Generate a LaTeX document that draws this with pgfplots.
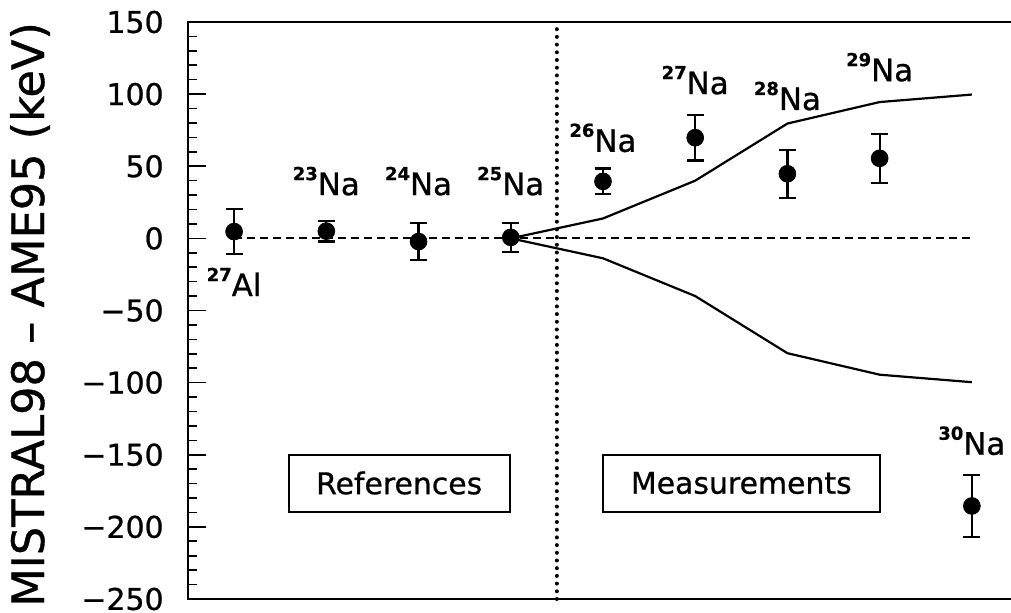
\documentclass[border=0pt]{standalone}
\usepackage{fontspec}
\setmainfont{DejaVu Sans}[FakeBold=0.8]
\usepackage{pgfplots}
\pgfplotsset{compat=1.18}
\usepackage{pgfplotstable}

\pgfplotstableread{
x y e
1 4.7 15.5
2 5.0 7.2
3 -2.2 12.9
4 0.7 10.0
5 39.5 9.0
6 69.8 15.8
7 44.8 16.6
8 55.5 16.9
9 -185.5 21.3
}\datatable

\pgfplotstableread{
x up lo
4 0 0
5 13.8 -13.8
6 40 -40
7 79.6 -79.6
8 94.5 -94.5
9 99.7 -99.7
}\curves

\newcommand\iso[2]{\raisebox{7.5bp}{\fontsize{9}{9}\selectfont\bfseries #1}#2}

\begin{document}
\begin{tikzpicture}
\begin{axis}[name=ax, scale only axis, width=415bp, height=288.5bp,
  xmin=0.5, xmax=9.5, ymin=-250, ymax=150,
  xtick=\empty,
  ytick={-250,-200,-150,-100,-50,0,50,100,150},
  yticklabels={−250,−200,−150,−100,−50,0,50,100,150},
  minor y tick num=4, ytick pos=left, tick align=inside,
  major tick length=9bp, minor tick length=4.5bp,
  axis line style={line width=0.9bp},
  every tick/.style={line width=0.8bp, black},
  yticklabel style={font=\fontsize{15}{15}\selectfont, anchor=east, inner sep=0pt, xshift=-12bp},
  clip=false]
\addplot[line width=2bp, line cap=round, dash pattern=on 0bp off 3.85bp] coordinates {(4.5,-250) (4.5,150)};
\addplot[line width=1bp, dash pattern=on 4bp off 2.5bp] coordinates {(1,0) (9,0)};
\addplot[line width=1.1bp] table[x=x, y=up] {\curves};
\addplot[line width=1.1bp] table[x=x, y=lo] {\curves};
\addplot[only marks, mark=*, mark size=4.2bp, black,
  error bars/.cd, y dir=both, y explicit,
  error bar style={line width=1.1bp, black},
  error mark options={line width=1.1bp, mark size=4.2bp, rotate=90, black}]
  table[x=x, y=y, y error=e] {\datatable};
\node[anchor=base, font=\fontsize{15.5}{15.5}\selectfont] at (axis cs:1,-40) {\iso{27}{Al}};
\node[anchor=base, font=\fontsize{15.5}{15.5}\selectfont] at (axis cs:2,30) {\iso{23}{Na}};
\node[anchor=base, font=\fontsize{15.5}{15.5}\selectfont] at (axis cs:3,30) {\iso{24}{Na}};
\node[anchor=base, font=\fontsize{15.5}{15.5}\selectfont] at (axis cs:4,30) {\iso{25}{Na}};
\node[anchor=base, font=\fontsize{15.5}{15.5}\selectfont] at (axis cs:5,60) {\iso{26}{Na}};
\node[anchor=base, font=\fontsize{15.5}{15.5}\selectfont] at (axis cs:6,100) {\iso{27}{Na}};
\node[anchor=base, font=\fontsize{15.5}{15.5}\selectfont] at (axis cs:7,89) {\iso{28}{Na}};
\node[anchor=base, font=\fontsize{15.5}{15.5}\selectfont] at (axis cs:8,109) {\iso{29}{Na}};
\node[anchor=base, font=\fontsize{15.5}{15.5}\selectfont] at (axis cs:9,-150) {\iso{30}{Na}};
\node[draw, line width=1bp, minimum width=110.5bp, minimum height=28.5bp, font=\fontsize{15}{15}\selectfont] at (axis cs:2.79,-169.6) {References};
\node[draw, line width=1bp, minimum width=138.5bp, minimum height=28.5bp, font=\fontsize{15}{15}\selectfont] at (axis cs:6.5,-169.6) {Measurements};
\end{axis}
\node[rotate=90, font=\fontsize{22.4}{22.4}\selectfont] at ([xshift=-79bp, yshift=-2bp]ax.west) {MISTRAL98 – AME95 (keV)};
\pgfresetboundingbox
\path[use as bounding box] ([shift={(-94bp,-7bp)}]ax.south west) rectangle ([shift={(411.5bp,11bp)}]ax.north west);
\end{tikzpicture}
\end{document}
